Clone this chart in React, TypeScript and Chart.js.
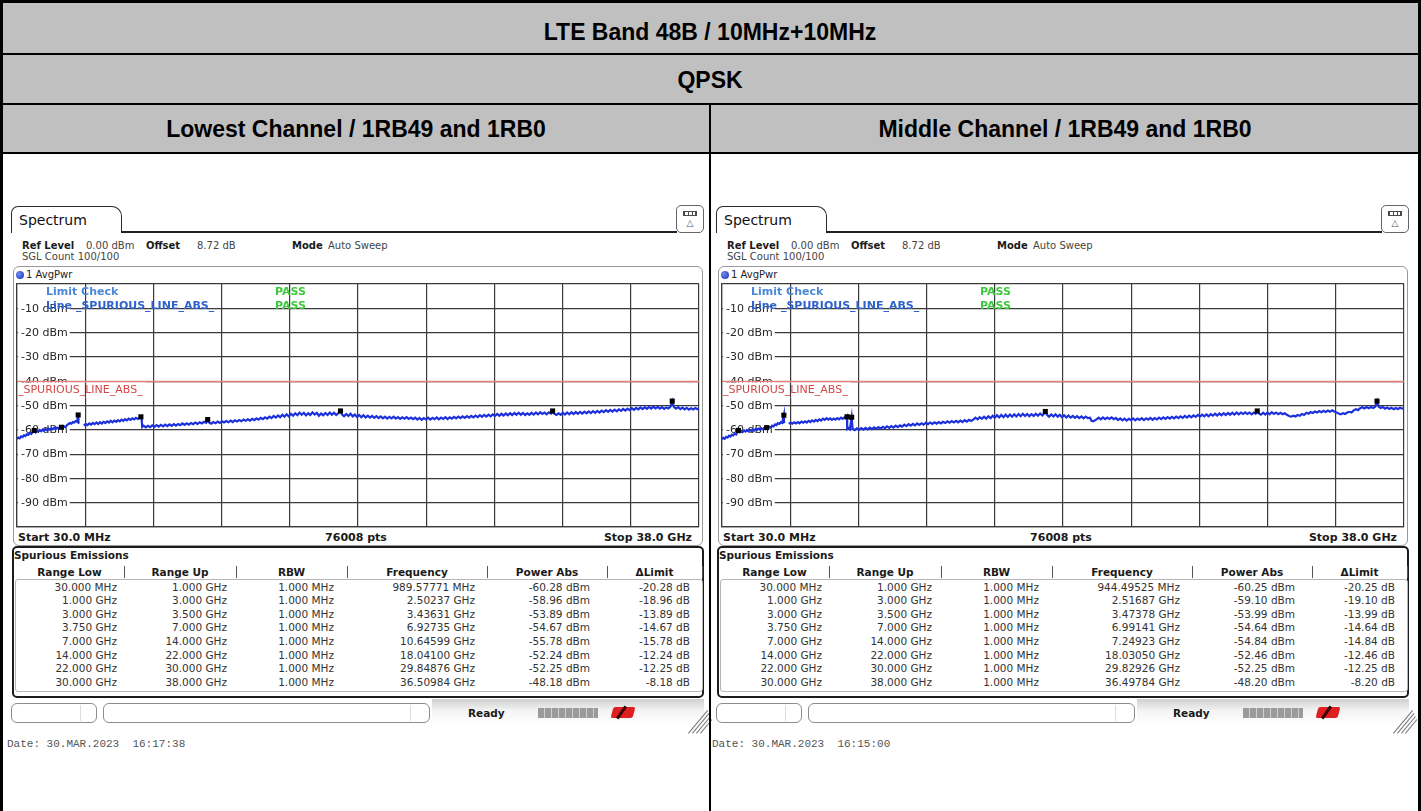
import React, { useEffect, useRef } from 'react';
import { Chart, registerables } from 'chart.js';

Chart.register(...registerables);

// ---------------- data ----------------
const TITLE = 'LTE Band 48B / 10MHz+10MHz';
const MODULATION = 'QPSK';
const CHANNEL_LEFT = 'Lowest Channel / 1RB49 and 1RB0';
const CHANNEL_RIGHT = 'Middle Channel / 1RB49 and 1RB0';

const START_GHZ = 0.03;
const STOP_GHZ = 38;
const X_DIVISIONS = 10;
const Y_LABELS = [-10, -20, -30, -40, -50, -60, -70, -80, -90];
const LIMIT_DBM = -40;
const LIMIT_NAME = '_SPURIOUS_LINE_ABS_';

const TABLE_HEADERS = ['Range Low', 'Range Up', 'RBW', 'Frequency', 'Power Abs', 'ΔLimit'];
const RANGE_LOW = ['30.000 MHz', '1.000 GHz', '3.000 GHz', '3.750 GHz', '7.000 GHz', '14.000 GHz', '22.000 GHz', '30.000 GHz'];
const RANGE_UP = ['1.000 GHz', '3.000 GHz', '3.500 GHz', '7.000 GHz', '14.000 GHz', '22.000 GHz', '30.000 GHz', '38.000 GHz'];
const RBW = ['1.000 MHz', '1.000 MHz', '1.000 MHz', '1.000 MHz', '1.000 MHz', '1.000 MHz', '1.000 MHz', '1.000 MHz'];

const LEFT_PEAK_GHZ = [0.98957771, 2.50237, 3.43631, 6.92735, 10.64599, 18.041, 29.84876, 36.50984];
const LEFT_PEAK_DBM = [-60.28, -58.96, -53.89, -54.67, -55.78, -52.24, -52.25, -48.18];
const RIGHT_PEAK_GHZ = [0.94449525, 2.51687, 3.47378, 6.99141, 7.24923, 18.0305, 29.82926, 36.49784];
const RIGHT_PEAK_DBM = [-60.25, -59.1, -53.99, -54.64, -54.84, -52.46, -52.25, -48.2];

const LEFT_DATE = 'Date: 30.MAR.2023  16:17:38';
const RIGHT_DATE = 'Date: 30.MAR.2023  16:15:00';

// trace readings [GHz, dBm]; null marks the excluded 3.5-3.75 GHz gap
const LEFT_TRACE: [number, number | null][] = [
  [0.03, -63.8], [0.1, -63.2], [0.18, -63.5], [0.26, -62.7], [0.34, -63.0], [0.42, -62.2], [0.5, -62.6], [0.58, -61.8],
  [0.66, -62.1], [0.74, -61.3], [0.82, -61.7], [0.9, -60.9], [0.99, -60.3], [1.06, -61.0], [1.14, -60.4], [1.22, -60.8],
  [1.3, -60.1], [1.38, -60.6], [1.46, -59.9], [1.54, -60.4], [1.62, -59.7], [1.7, -60.2], [1.78, -59.5], [1.86, -60.0],
  [1.94, -59.4], [2.02, -59.8], [2.1, -59.2], [2.18, -59.7], [2.26, -59.1], [2.34, -59.5], [2.42, -59.2], [2.5, -59.0],
  [2.58, -59.4], [2.66, -58.6], [2.74, -58.9], [2.82, -58.0], [2.9, -57.6], [2.98, -57.2], [3.06, -57.5], [3.14, -56.8],
  [3.22, -57.0], [3.3, -56.4], [3.38, -56.7], [3.436, -53.9], [3.45, -57.1], [3.5, -57.4], [3.6, null],
  [3.75, -58.3], [3.85, -57.6], [3.95, -58.1], [4.05, -57.4], [4.15, -57.9], [4.25, -57.2], [4.35, -57.7], [4.45, -57.0],
  [4.55, -57.6], [4.65, -56.9], [4.75, -57.4], [4.85, -56.7], [4.95, -57.2], [5.05, -56.5], [5.15, -57.0], [5.25, -56.3],
  [5.35, -56.9], [5.45, -56.2], [5.55, -56.7], [5.65, -56.0], [5.75, -56.5], [5.85, -55.8], [5.95, -56.3], [6.05, -55.6],
  [6.15, -56.1], [6.25, -55.4], [6.35, -55.9], [6.45, -55.3], [6.55, -55.7], [6.65, -55.1], [6.75, -55.5], [6.85, -55.0],
  [6.93, -54.7], [6.97, -55.3], [7.0, -58.8],
  [7.08, -58.3], [7.2, -59.0], [7.32, -58.4], [7.44, -58.9], [7.56, -58.2], [7.68, -58.8], [7.8, -58.1], [7.92, -58.7],
  [8.04, -58.0], [8.16, -58.6], [8.28, -57.9], [8.4, -58.5], [8.52, -57.8], [8.64, -58.4], [8.76, -57.7], [8.88, -58.3],
  [9.0, -57.6], [9.12, -58.1], [9.24, -57.4], [9.36, -58.0], [9.48, -57.3], [9.6, -57.9], [9.72, -57.2], [9.84, -57.7],
  [9.96, -57.0], [10.08, -57.6], [10.2, -56.9], [10.32, -57.4], [10.44, -56.7], [10.56, -57.1], [10.646, -55.8], [10.72, -57.0],
  [10.84, -57.5], [10.96, -56.8], [11.08, -57.3], [11.2, -56.6], [11.32, -57.2], [11.44, -56.5], [11.56, -57.0], [11.68, -56.4],
  [11.8, -56.9], [11.92, -56.2], [12.04, -56.8], [12.16, -56.1], [12.28, -56.6], [12.4, -56.0], [12.52, -56.5], [12.64, -55.8],
  [12.76, -56.3], [12.88, -55.7], [13.0, -56.2], [13.12, -55.5], [13.24, -56.0], [13.36, -55.3], [13.48, -55.8], [13.6, -55.1],
  [13.72, -55.6], [13.84, -54.9], [13.96, -55.4],
  [14.08, -54.6], [14.2, -55.2], [14.32, -54.3], [14.44, -55.0], [14.56, -54.1], [14.68, -54.8], [14.8, -53.8], [14.92, -54.6],
  [15.04, -53.6], [15.16, -54.5], [15.28, -53.4], [15.4, -54.2], [15.52, -53.2], [15.64, -54.0], [15.76, -52.9], [15.88, -53.8],
  [16.0, -53.0], [16.12, -54.1], [16.24, -53.2], [16.36, -53.9], [16.48, -52.8], [16.6, -53.7], [16.72, -53.0], [16.84, -54.2],
  [16.96, -53.3], [17.08, -54.0], [17.2, -53.1], [17.32, -53.9], [17.44, -52.9], [17.56, -53.8], [17.68, -53.0], [17.8, -53.9],
  [17.92, -53.2], [18.04, -52.2], [18.12, -53.6], [18.24, -54.4], [18.36, -53.5], [18.48, -54.3], [18.6, -53.4], [18.72, -54.5],
  [18.84, -53.7], [18.96, -54.7], [19.08, -53.9], [19.2, -54.8], [19.32, -54.0], [19.44, -54.9], [19.56, -54.2], [19.68, -55.0],
  [19.8, -54.3], [19.92, -55.1], [20.04, -54.4], [20.16, -55.2], [20.28, -54.5], [20.4, -55.3], [20.52, -54.6], [20.64, -55.4],
  [20.76, -54.7], [20.88, -55.3], [21.0, -54.6], [21.12, -55.4], [21.24, -54.8], [21.36, -55.5], [21.48, -54.9], [21.6, -55.4],
  [21.72, -54.8], [21.84, -55.5], [21.96, -55.0],
  [22.08, -55.6], [22.2, -55.0], [22.32, -55.8], [22.44, -55.1], [22.56, -55.9], [22.68, -55.2], [22.8, -55.7], [22.92, -55.0],
  [23.04, -55.8], [23.16, -55.1], [23.28, -55.6], [23.4, -54.9], [23.52, -55.7], [23.64, -55.0], [23.76, -55.5], [23.88, -54.8],
  [24.0, -55.6], [24.12, -54.9], [24.24, -55.4], [24.36, -54.7], [24.48, -55.3], [24.6, -54.6], [24.72, -55.2], [24.84, -54.5],
  [24.96, -55.1], [25.08, -54.4], [25.2, -55.0], [25.32, -54.3], [25.44, -54.9], [25.56, -54.2], [25.68, -54.8], [25.8, -54.0],
  [25.92, -54.7], [26.04, -53.9], [26.16, -54.6], [26.28, -53.8], [26.4, -54.5], [26.52, -53.7], [26.64, -54.3], [26.76, -53.5],
  [26.88, -54.2], [27.0, -53.4], [27.12, -54.1], [27.24, -53.3], [27.36, -54.0], [27.48, -53.2], [27.6, -53.9], [27.72, -53.1],
  [27.84, -53.8], [27.96, -53.0], [28.08, -53.8], [28.2, -53.1], [28.32, -53.9], [28.44, -53.2], [28.56, -53.8], [28.68, -53.0],
  [28.8, -53.7], [28.92, -52.9], [29.04, -53.6], [29.16, -52.8], [29.28, -53.5], [29.4, -52.9], [29.52, -53.6], [29.64, -52.8],
  [29.76, -53.3], [29.85, -52.3], [29.94, -53.4],
  [30.06, -53.9], [30.18, -53.2], [30.3, -53.8], [30.42, -53.0], [30.54, -53.7], [30.66, -52.9], [30.78, -53.6], [30.9, -52.8],
  [31.02, -53.5], [31.14, -52.7], [31.26, -53.4], [31.38, -52.6], [31.5, -53.3], [31.62, -52.5], [31.74, -53.2], [31.86, -52.4],
  [31.98, -53.1], [32.1, -52.3], [32.22, -53.0], [32.34, -52.2], [32.46, -52.9], [32.58, -52.1], [32.7, -52.7], [32.82, -51.9],
  [32.94, -52.6], [33.06, -51.8], [33.18, -52.5], [33.3, -51.7], [33.42, -52.4], [33.54, -51.6], [33.66, -52.2], [33.78, -51.4],
  [33.9, -52.1], [34.02, -51.3], [34.14, -51.9], [34.26, -51.1], [34.38, -51.8], [34.5, -51.0], [34.62, -51.6], [34.74, -50.8],
  [34.86, -51.5], [34.98, -50.7], [35.1, -51.4], [35.22, -50.6], [35.34, -51.3], [35.46, -50.5], [35.58, -51.2], [35.7, -50.6],
  [35.82, -51.3], [35.94, -50.7], [36.06, -51.4], [36.18, -50.8], [36.3, -51.2], [36.42, -50.4], [36.51, -48.2], [36.6, -50.6],
  [36.72, -51.3], [36.84, -50.7], [36.96, -51.5], [37.08, -50.9], [37.2, -51.6], [37.32, -51.0], [37.44, -51.7], [37.56, -51.1],
  [37.68, -51.6], [37.8, -51.0], [37.92, -51.5], [38.0, -51.2],
];

const RIGHT_TRACE: [number, number | null][] = [
  [0.03, -63.9], [0.1, -63.3], [0.18, -63.7], [0.26, -62.9], [0.34, -63.2], [0.42, -62.4], [0.5, -62.8], [0.58, -62.0],
  [0.66, -62.3], [0.74, -61.5], [0.82, -61.9], [0.944, -60.3], [1.02, -61.0], [1.1, -60.5], [1.18, -60.9], [1.26, -60.3],
  [1.34, -60.7], [1.42, -60.1], [1.5, -60.6], [1.58, -60.0], [1.66, -60.4], [1.74, -59.8], [1.82, -60.3], [1.9, -59.7],
  [1.98, -60.1], [2.06, -59.5], [2.14, -59.9], [2.22, -59.4], [2.3, -59.8], [2.38, -59.3], [2.46, -59.6], [2.517, -59.1],
  [2.58, -59.5], [2.66, -58.8], [2.74, -59.1], [2.82, -58.3], [2.9, -58.6], [2.98, -57.8], [3.06, -58.1], [3.14, -57.3],
  [3.22, -57.6], [3.3, -56.9], [3.38, -57.2], [3.474, -54.0], [3.48, -57.0], [3.5, -57.3], [3.6, null],
  [3.75, -57.6], [3.85, -57.0], [3.95, -57.5], [4.05, -56.9], [4.15, -57.4], [4.25, -56.8], [4.35, -57.3], [4.45, -56.6],
  [4.55, -57.1], [4.65, -56.5], [4.75, -57.0], [4.85, -56.3], [4.95, -56.8], [5.05, -56.1], [5.15, -56.6], [5.25, -55.9],
  [5.35, -56.4], [5.45, -55.7], [5.55, -56.2], [5.65, -55.4], [5.75, -55.9], [5.85, -55.2], [5.95, -55.8], [6.05, -55.3],
  [6.15, -55.9], [6.25, -55.4], [6.35, -55.8], [6.45, -55.2], [6.55, -55.7], [6.65, -55.0], [6.75, -55.5], [6.85, -54.9],
  [6.93, -55.3], [6.99, -54.6], [7.0, -59.6],
  [7.06, -59.2], [7.15, -59.8], [7.249, -54.8], [7.3, -59.5], [7.42, -60.1], [7.54, -59.4], [7.66, -60.0], [7.78, -59.3],
  [7.9, -59.9], [8.02, -59.2], [8.14, -59.8], [8.26, -59.1], [8.38, -59.7], [8.5, -59.0], [8.62, -59.6], [8.74, -58.9],
  [8.86, -59.5], [8.98, -58.8], [9.1, -59.3], [9.22, -58.6], [9.34, -59.2], [9.46, -58.5], [9.58, -59.1], [9.7, -58.3],
  [9.82, -58.9], [9.94, -58.2], [10.06, -58.7], [10.18, -57.9], [10.3, -58.5], [10.42, -57.7], [10.54, -58.3], [10.66, -57.6],
  [10.78, -58.2], [10.9, -57.4], [11.02, -58.0], [11.14, -57.3], [11.26, -57.9], [11.38, -57.1], [11.5, -57.7], [11.62, -57.0],
  [11.74, -57.6], [11.86, -56.9], [11.98, -57.5], [12.1, -56.8], [12.22, -57.4], [12.34, -56.7], [12.46, -57.2], [12.58, -56.5],
  [12.7, -57.1], [12.82, -56.4], [12.94, -57.0], [13.06, -56.3], [13.18, -56.9], [13.3, -56.2], [13.42, -56.8], [13.54, -56.0],
  [13.66, -56.6], [13.78, -55.9], [13.9, -56.4],
  [14.02, -55.8], [14.14, -55.0], [14.26, -55.7], [14.38, -54.8], [14.5, -55.5], [14.62, -54.6], [14.74, -55.4], [14.86, -54.4],
  [14.98, -55.2], [15.1, -54.2], [15.22, -55.0], [15.34, -54.0], [15.46, -54.9], [15.58, -53.9], [15.7, -54.8], [15.82, -53.8],
  [15.94, -54.7], [16.06, -53.7], [16.18, -54.6], [16.3, -53.6], [16.42, -54.5], [16.54, -53.5], [16.66, -54.4], [16.78, -53.4],
  [16.9, -54.3], [17.02, -53.5], [17.14, -54.4], [17.26, -53.6], [17.38, -54.3], [17.5, -53.4], [17.62, -54.2], [17.74, -53.3],
  [17.86, -54.1], [17.95, -53.4], [18.03, -52.5], [18.12, -53.8], [18.24, -54.6], [18.36, -53.7], [18.48, -54.5], [18.6, -53.6],
  [18.72, -54.6], [18.84, -53.8], [18.96, -54.8], [19.08, -54.0], [19.2, -54.9], [19.32, -54.1], [19.44, -55.0], [19.56, -54.3],
  [19.68, -55.1], [19.8, -54.4], [19.92, -55.2], [20.04, -54.5], [20.16, -55.3], [20.28, -54.6], [20.4, -55.2], [20.52, -55.0],
  [20.6, -56.3], [20.7, -56.5], [20.8, -56.1], [20.9, -55.6], [21.0, -55.0], [21.12, -55.7], [21.24, -54.9], [21.36, -55.6],
  [21.48, -55.0], [21.6, -55.5], [21.72, -54.9], [21.84, -55.6], [21.96, -55.1],
  [22.08, -56.0], [22.2, -55.3], [22.32, -56.1], [22.44, -55.4], [22.56, -56.2], [22.68, -55.5], [22.8, -56.0], [22.92, -55.3],
  [23.04, -56.1], [23.16, -55.4], [23.28, -55.9], [23.4, -55.2], [23.52, -56.0], [23.64, -55.3], [23.76, -55.8], [23.88, -55.1],
  [24.0, -55.9], [24.12, -55.2], [24.24, -55.7], [24.36, -55.0], [24.48, -55.6], [24.6, -54.9], [24.72, -55.5], [24.84, -54.8],
  [24.96, -55.4], [25.08, -54.7], [25.2, -55.3], [25.32, -54.6], [25.44, -55.2], [25.56, -54.5], [25.68, -55.1], [25.8, -54.3],
  [25.92, -55.0], [26.04, -54.2], [26.16, -54.9], [26.28, -54.1], [26.4, -54.7], [26.52, -53.9], [26.64, -54.6], [26.76, -53.8],
  [26.88, -54.5], [27.0, -53.7], [27.12, -54.4], [27.24, -53.6], [27.36, -54.2], [27.48, -53.4], [27.6, -54.1], [27.72, -53.3],
  [27.84, -54.0], [27.96, -53.2], [28.08, -53.9], [28.2, -53.1], [28.32, -53.8], [28.44, -53.0], [28.56, -53.7], [28.68, -52.9],
  [28.8, -53.6], [28.92, -52.9], [29.04, -53.5], [29.16, -52.8], [29.28, -53.5], [29.4, -52.9], [29.52, -53.6], [29.64, -52.9],
  [29.74, -53.4], [29.83, -52.3], [29.92, -53.3],
  [30.04, -53.8], [30.16, -53.0], [30.28, -53.7], [30.4, -52.9], [30.52, -53.6], [30.64, -52.8], [30.76, -53.5], [30.88, -52.9],
  [31.0, -53.6], [31.12, -53.0], [31.24, -53.6], [31.36, -53.2], [31.48, -53.8], [31.6, -54.3], [31.72, -54.6], [31.84, -54.2],
  [31.96, -54.5], [32.08, -53.9], [32.2, -54.2], [32.32, -53.5], [32.44, -53.9], [32.56, -53.0], [32.68, -53.4], [32.8, -52.7],
  [32.92, -53.1], [33.04, -52.5], [33.16, -52.9], [33.28, -52.3], [33.4, -52.8], [33.52, -52.2], [33.64, -52.7], [33.76, -52.1],
  [33.88, -52.6], [34.0, -52.0], [34.12, -52.5], [34.24, -52.9], [34.36, -53.3], [34.48, -53.6], [34.6, -53.2], [34.72, -53.5],
  [34.84, -52.9], [34.96, -52.6], [35.08, -52.9], [35.2, -52.0], [35.32, -51.5], [35.44, -51.9], [35.56, -51.1], [35.68, -50.7],
  [35.8, -51.2], [35.92, -50.6], [36.04, -51.1], [36.16, -50.6], [36.28, -51.0], [36.4, -50.5], [36.498, -48.2], [36.58, -50.4],
  [36.7, -51.0], [36.82, -50.6], [36.94, -51.3], [37.06, -50.8], [37.18, -51.4], [37.3, -50.9], [37.42, -51.5], [37.54, -51.0],
  [37.66, -51.4], [37.78, -50.9], [37.9, -51.3], [38.0, -51.0],
];

// ---------------- helpers ----------------
const SANS = '"DejaVu Sans", Verdana, sans-serif';
const ARIAL = '"Liberation Sans", Arial, sans-serif';
const MONO = '"Liberation Mono", "Courier New", monospace';
const GRID = '#3a3a3a';

const fmtFreq = (g: number) => (g < 1 ? `${(g * 1000).toFixed(5)} MHz` : `${g.toFixed(5)} GHz`);
const fmtDbm = (p: number) => `${p.toFixed(2)} dBm`;
const fmtDelta = (p: number) => `${(p - LIMIT_DBM).toFixed(2)} dB`;

type TxtProps = {
  x: number; y: number; children: React.ReactNode; size?: number; bold?: boolean;
  color?: string; align?: 'left' | 'right' | 'center'; family?: string;
};
function Txt({ x, y, children, size = 11, bold = false, color = '#1a1a1a', align = 'left', family = SANS }: TxtProps) {
  const tx = align === 'left' ? '0' : align === 'right' ? '-100%' : '-50%';
  return (
    <div style={{
      position: 'absolute', left: x, top: y, transform: `translate(${tx}, -50%)`,
      fontSize: size, fontWeight: bold ? 700 : 400, color, fontFamily: family,
      whiteSpace: 'pre', lineHeight: 1.2,
    }}>{children}</div>
  );
}

const Box = (p: { l: number; t: number; w: number; h: number; style?: React.CSSProperties; children?: React.ReactNode }) => (
  <div style={{ position: 'absolute', left: p.l, top: p.t, width: p.w, height: p.h, boxSizing: 'border-box', ...p.style }}>{p.children}</div>
);

const overlayPlugin = {
  id: 'rsOverlay',
  beforeDatasetsDraw(chart: any) {
    const { ctx, chartArea: a, scales } = chart;
    const xs = scales.x;
    const ys = scales.y;
    ctx.save();
    ctx.textBaseline = 'middle';
    ctx.font = `11px ${SANS}`;
    for (const v of Y_LABELS) {
      const py = ys.getPixelForValue(v);
      const t = `${v} dBm`;
      const w = ctx.measureText(t).width;
      ctx.fillStyle = '#fff';
      ctx.fillRect(a.left + 1, py - 6, w + 5, 12);
      ctx.fillStyle = '#262626';
      ctx.fillText(t, a.left + 4, py + 0.5);
    }
    // limit line
    const ly = Math.round(ys.getPixelForValue(LIMIT_DBM)) + 0.5;
    ctx.strokeStyle = '#e97c7c';
    ctx.lineWidth = 1.5;
    ctx.beginPath();
    ctx.moveTo(a.left, ly);
    ctx.lineTo(a.right, ly);
    ctx.stroke();
    const lw = ctx.measureText(LIMIT_NAME).width;
    ctx.fillStyle = '#fff';
    ctx.fillRect(a.left + 1, ly + 1, lw + 3, 15);
    const gx = Math.round(xs.getPixelForValue(START_GHZ + (STOP_GHZ - START_GHZ) / X_DIVISIONS)) + 0.5;
    ctx.strokeStyle = GRID;
    ctx.lineWidth = 1.2;
    ctx.beginPath();
    ctx.moveTo(gx, ly + 1);
    ctx.lineTo(gx, ly + 16);
    ctx.stroke();
    ctx.fillStyle = '#d54848';
    ctx.fillText(LIMIT_NAME, a.left + 1, ly + 8.5);
    // limit check info
    ctx.font = `bold 11px ${SANS}`;
    ctx.fillStyle = '#4b88d6';
    ctx.fillText('Limit Check', a.left + 29, a.top + 8);
    ctx.fillStyle = '#3ec83e';
    ctx.fillText('PASS', a.left + 258, a.top + 8);
    const l2 = ys.getPixelForValue(-10) - 2;
    ctx.fillStyle = '#2f62cc';
    ctx.fillText(`Line ${LIMIT_NAME}`, a.left + 29, l2);
    ctx.fillStyle = '#3ec83e';
    ctx.fillText('PASS', a.left + 258, l2);
    ctx.restore();
  },
};

function SpectrumPlot({ trace, peakGHz, peakDbm }: { trace: [number, number | null][]; peakGHz: number[]; peakDbm: number[] }) {
  const ref = useRef<HTMLCanvasElement | null>(null);
  useEffect(() => {
    if (!ref.current) return;
    const step = (STOP_GHZ - START_GHZ) / X_DIVISIONS;
    const chart = new Chart(ref.current, {
      type: 'line',
      data: {
        datasets: [
          {
            data: peakGHz.map((f, i) => ({ x: f, y: peakDbm[i] })),
            showLine: false,
            pointStyle: 'rect',
            pointRadius: 3.6,
            pointBackgroundColor: '#000',
            pointBorderColor: '#000',
            pointBorderWidth: 0,
            order: 0,
          } as any,
          {
            data: trace.map(([f, p]) => ({ x: f, y: p })),
            borderColor: '#1c30dc',
            borderWidth: 2.2,
            pointRadius: 0,
            tension: 0,
            spanGaps: false,
            order: 1,
          } as any,
        ],
      },
      options: {
        animation: false,
        responsive: false,
        maintainAspectRatio: false,
        events: [],
        layout: { padding: 1 },
        plugins: { legend: { display: false }, tooltip: { enabled: false } },
        scales: {
          x: {
            type: 'linear', min: START_GHZ, max: STOP_GHZ,
            afterBuildTicks: (s: any) => {
              s.ticks = Array.from({ length: X_DIVISIONS + 1 }, (_, i) => ({ value: START_GHZ + i * step }));
            },
            ticks: { display: false },
            grid: { color: GRID, lineWidth: 1.2, drawTicks: false },
            border: { display: true, color: GRID, width: 1.2 },
          },
          y: {
            type: 'linear', min: -100, max: 0,
            ticks: { display: false, stepSize: 10 },
            grid: { color: GRID, lineWidth: 1.2, drawTicks: false },
            border: { display: true, color: GRID, width: 1.2 },
          },
        },
      } as any,
      plugins: [overlayPlugin],
    });
    return () => chart.destroy();
  }, []);
  return <canvas ref={ref} width={690} height={251} style={{ position: 'absolute', left: 13, top: 280, width: 690, height: 251 }} />;
}

const COL_EDGES = [15, 124, 236, 347, 487, 607, 702];
const COL_PAD = [7, 9, 13, 12, 17, 12];

function Spectrum({ L, trace, peakGHz, peakDbm, date }: {
  L: number; trace: [number, number | null][]; peakGHz: number[]; peakDbm: number[]; date: string;
}) {
  const rows = RANGE_LOW.map((_, i) => [RANGE_LOW[i], RANGE_UP[i], RBW[i], fmtFreq(peakGHz[i]), fmtDbm(peakDbm[i]), fmtDelta(peakDbm[i])]);
  return (
    <div style={{ position: 'absolute', left: L, top: 0, width: 712, height: 811 }}>
      {/* tab */}
      <Box l={11} t={206} w={111} h={27} style={{ border: '1.5px solid #2a2a2a', borderBottom: 'none', borderRadius: '7px 10px 0 0', background: '#fff' }} />
      <Txt x={19} y={219.5} size={14} color="#111">Spectrum</Txt>
      <Box l={121} t={231} w={556} h={1.6} style={{ background: '#222' }} />
      <Box l={676} t={205} w={28} h={28} style={{ border: '1px solid #666', borderRadius: 5, background: '#fff' }}>
        <div style={{ position: 'absolute', left: 6, top: 5, width: 14, height: 5, background: '#4a4a4a' }}>
          <div style={{ position: 'absolute', left: 2, top: 1, width: 3, height: 3, background: '#fff' }} />
          <div style={{ position: 'absolute', left: 6, top: 1, width: 3, height: 3, background: '#fff' }} />
          <div style={{ position: 'absolute', left: 10, top: 1, width: 2, height: 3, background: '#fff' }} />
        </div>
        <div style={{ position: 'absolute', left: 0, top: 12, width: 26, textAlign: 'center', fontSize: 9, lineHeight: '10px', color: '#555', fontFamily: SANS }}>△</div>
      </Box>
      {/* header info */}
      <Txt x={22} y={245.5} size={10} bold>Ref Level</Txt>
      <Txt x={86} y={245.5} size={10} color="#444">0.00 dBm</Txt>
      <Txt x={146} y={245.5} size={10} bold>Offset</Txt>
      <Txt x={197} y={245.5} size={10} color="#444">8.72 dB</Txt>
      <Txt x={292} y={245.5} size={10} bold>Mode</Txt>
      <Txt x={328} y={245.5} size={10} color="#444">Auto Sweep</Txt>
      <Txt x={22} y={257} size={10} color="#444">SGL Count 100/100</Txt>
      {/* trace panel */}
      <Box l={13} t={266} w={690} h={280} style={{ border: '1px solid #9a9a9a', borderRadius: 6, background: '#fff' }} />
      <div style={{ position: 'absolute', left: 16, top: 271, width: 8, height: 8, borderRadius: 4, background: 'radial-gradient(circle at 35% 35%, #6f8cf0, #1330b8)' }} />
      <Txt x={26} y={275} size={10} color="#222">1 AvgPwr</Txt>
      <SpectrumPlot trace={trace} peakGHz={peakGHz} peakDbm={peakDbm} />
      <Txt x={18} y={538} size={11} bold>Start 30.0 MHz</Txt>
      <Txt x={356} y={538} size={11} bold align="center">76008 pts</Txt>
      <Txt x={692} y={538} size={11} bold align="right">Stop 38.0 GHz</Txt>
      {/* spurious table */}
      <Box l={12} t={546} w={692} h={152} style={{ border: '2px solid #1c1c1c', borderRadius: 5, background: '#fff' }} />
      <Txt x={14} y={555} size={10.5} bold>Spurious Emissions</Txt>
      {TABLE_HEADERS.map((h, c) => (
        <Txt key={h} x={(COL_EDGES[c] + COL_EDGES[c + 1]) / 2} y={572} size={10.5} bold align="center">{h}</Txt>
      ))}
      {COL_EDGES.slice(1).map((x, c) => (
        <Box key={'s' + c} l={x} t={566} w={1.2} h={12} style={{ background: '#555' }} />
      ))}
      <Box l={15} t={579} w={688} h={113} style={{ border: '1px solid #b5b5b5', borderRadius: 3 }} />
      {rows.map((r, i) => r.map((v, c) => (
        <Txt key={`${i}-${c}`} x={COL_EDGES[c + 1] - COL_PAD[c]} y={586.5 + i * 13.6} size={10.5} color="#333" align="right">{v}</Txt>
      )))}
      {/* status bar */}
      <Box l={432} t={699} w={272} h={26} style={{ background: 'linear-gradient(to bottom, #cfcfcf, #f4f4f4 45%, #ffffff)' }} />
      <Box l={11} t={703} w={86} h={20} style={{ border: '1px solid #8c8c8c', borderRadius: 6, background: '#fff' }} />
      <Box l={80} t={705} w={1} h={16} style={{ background: '#ddd' }} />
      <Box l={103} t={703} w={327} h={20} style={{ border: '1px solid #8c8c8c', borderRadius: 6, background: '#fff' }} />
      <Box l={410} t={705} w={1} h={16} style={{ background: '#ddd' }} />
      <Txt x={468} y={713} size={10.5} bold>Ready</Txt>
      <Box l={538} t={708} w={60} h={10} style={{ background: 'repeating-linear-gradient(to right, #9a9a9a 0 6px, #cfcfcf 6px 7px)' }} />
      <Box l={612} t={707} w={22} h={11} style={{ background: '#e02020', borderRadius: 2, transform: 'skewX(-15deg)' }} />
      <Box l={620} t={705} w={3} h={15} style={{ background: '#3a0000', transform: 'rotate(35deg)' }} />
      {[0, 4, 8, 12].map((d) => (
        <Box key={'h' + d} l={688 + d} t={703} w={1} h={30 - d} style={{ background: '#777', transform: 'rotate(40deg)', transformOrigin: 'bottom left', top: 703 + d }} />
      ))}
      <Txt x={7} y={745} size={11} family={MONO} color="#555">{date}</Txt>
    </div>
  );
}

export default function App() {
  return (
    <div style={{ position: 'absolute', left: 0, top: 0, width: 1421, height: 811, background: '#fff', overflow: 'hidden', fontFamily: ARIAL }}>
      <Box l={0} t={0} w={1421} h={153} style={{ background: '#c0c0c0' }} />
      <Txt x={710} y={33} size={23} bold align="center" family={ARIAL} color="#000">{TITLE}</Txt>
      <Txt x={710} y={81} size={23} bold align="center" family={ARIAL} color="#000">{MODULATION}</Txt>
      <Txt x={356} y={130} size={23} bold align="center" family={ARIAL} color="#000">{CHANNEL_LEFT}</Txt>
      <Txt x={1065} y={130} size={23} bold align="center" family={ARIAL} color="#000">{CHANNEL_RIGHT}</Txt>
      <Spectrum L={0} trace={LEFT_TRACE} peakGHz={LEFT_PEAK_GHZ} peakDbm={LEFT_PEAK_DBM} date={LEFT_DATE} />
      <Spectrum L={705} trace={RIGHT_TRACE} peakGHz={RIGHT_PEAK_GHZ} peakDbm={RIGHT_PEAK_DBM} date={RIGHT_DATE} />
      {/* table frame */}
      <Box l={0} t={0} w={1421} h={3} style={{ background: '#000' }} />
      <Box l={0} t={53} w={1421} h={2} style={{ background: '#000' }} />
      <Box l={0} t={103} w={1421} h={2} style={{ background: '#000' }} />
      <Box l={0} t={152} w={1421} h={2} style={{ background: '#000' }} />
      <Box l={0} t={0} w={3} h={811} style={{ background: '#000' }} />
      <Box l={1418} t={0} w={3} h={811} style={{ background: '#000' }} />
      <Box l={709} t={103} w={2} h={708} style={{ background: '#000' }} />
    </div>
  );
}
